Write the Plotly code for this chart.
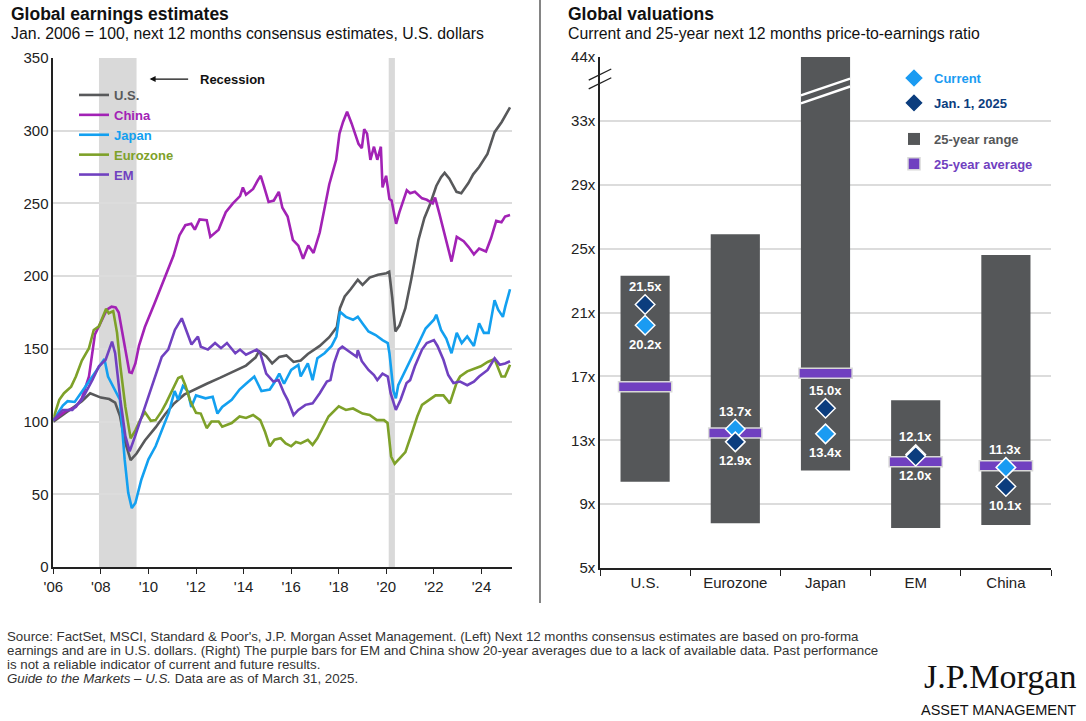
import plotly.graph_objects as go

W, H = 1086, 721
FONT = "Liberation Sans, Arial, sans-serif"

# ---------------- left panel: NTM consensus earnings, Jan. 2006 = 100 ----------------
us_t = [2006.0, 2006.6, 2007.2, 2007.55, 2007.8, 2008.0, 2008.35, 2008.6, 2008.8, 2009.0,
        2009.25, 2009.5, 2009.85, 2010.3, 2010.7, 2011.05, 2011.5, 2011.8, 2012.0, 2012.45,
        2013.0, 2013.5, 2014.1, 2014.5, 2014.65, 2014.95, 2015.2, 2015.5, 2015.8, 2016.1,
        2016.4, 2016.7, 2017.2, 2017.6, 2017.92, 2018.05, 2018.25, 2018.5, 2018.8, 2019.0,
        2019.3, 2019.65, 2020.0, 2020.12, 2020.25, 2020.38, 2020.55, 2020.8, 2021.05, 2021.35,
        2021.6, 2021.85, 2022.1, 2022.3, 2022.45, 2022.65, 2022.95, 2023.15, 2023.45, 2023.65,
        2023.9, 2024.25, 2024.55, 2024.85, 2025.05, 2025.2]
us_v = [100, 107, 114, 119.5, 118, 116.5, 115.5, 113, 104, 87,
        73.5, 78, 87, 96, 105, 112, 118.5, 121, 122.5, 126,
        130, 134, 138.5, 144, 148.5, 145, 140, 144.5, 145.5, 141,
        142, 146.5, 152, 158, 165, 178, 186, 191, 197.5, 194,
        199, 201, 202, 203, 185, 162, 166, 178, 198, 225,
        240, 250, 262, 268, 271, 267, 258, 257, 264, 270,
        275, 284, 299, 306, 312, 316]

china_t = [2006.0, 2006.5, 2006.95, 2007.2, 2007.5, 2007.75, 2008.05, 2008.25, 2008.45, 2008.62,
           2008.75, 2008.95, 2009.2, 2009.3, 2009.45, 2009.6, 2009.85, 2010.25, 2010.65, 2011.05,
           2011.3, 2011.55, 2011.8, 2011.95, 2012.15, 2012.45, 2012.6, 2012.95, 2013.25, 2013.55,
           2013.85, 2013.97, 2014.1, 2014.4, 2014.6, 2014.72, 2014.85, 2015.05, 2015.27, 2015.48,
           2015.63, 2015.85, 2016.07, 2016.3, 2016.5, 2016.72, 2016.94, 2017.2, 2017.43, 2017.6,
           2017.89, 2018.03, 2018.18, 2018.35, 2018.54, 2018.83, 2018.97, 2019.07, 2019.19, 2019.33,
           2019.48, 2019.62, 2019.77, 2019.84, 2019.99, 2020.13, 2020.22, 2020.41, 2020.55, 2020.86,
           2021.0, 2021.2, 2021.5, 2021.7, 2021.95, 2022.05, 2022.23, 2022.52, 2022.74, 2022.96,
           2023.25, 2023.46, 2023.68, 2023.9, 2024.19, 2024.4, 2024.62, 2024.84, 2024.99, 2025.2]
china_v = [101, 107, 110, 116, 131, 160, 170, 177, 179, 178.5,
           175, 157, 134, 133.5, 140, 152, 165, 181, 197, 214,
           228, 235, 236, 232, 239, 238.5, 227, 232, 244, 250,
           255, 261, 256, 260, 266, 269, 262, 251, 252, 258,
           247, 241, 225, 221, 212, 221, 216, 230, 249, 263,
           280, 298, 306, 313, 305, 291, 288, 301, 298, 280,
           289, 280, 289, 261, 269, 253, 252, 236, 244, 259,
           257, 258, 253.5, 252.5, 250, 254, 243, 225, 210, 227,
           224, 220, 215, 219, 217, 226, 238, 237, 241, 242]

japan_t = [2006.0, 2006.4, 2006.6, 2006.9, 2007.2, 2007.55, 2007.85, 2008.15, 2008.3, 2008.6,
           2008.8, 2009.0, 2009.15, 2009.3, 2009.45, 2009.7, 2010.0, 2010.3, 2010.55, 2010.85,
           2011.1, 2011.25, 2011.45, 2011.65, 2011.8, 2012.0, 2012.4, 2012.7, 2012.9, 2013.1,
           2013.5, 2013.83, 2014.1, 2014.45, 2014.75, 2015.1, 2015.3, 2015.5, 2015.7, 2016.0,
           2016.3, 2016.4, 2016.7, 2016.9, 2017.1, 2017.4, 2017.7, 2017.9, 2018.05, 2018.3,
           2018.6, 2018.8, 2019.0, 2019.25, 2019.55, 2019.84, 2020.06, 2020.13, 2020.3, 2020.4,
           2020.5, 2020.8, 2021.07, 2021.36, 2021.65, 2022.0, 2022.1, 2022.3, 2022.52, 2022.74,
           2022.96, 2023.17, 2023.4, 2023.68, 2023.9, 2024.1, 2024.3, 2024.55, 2024.7, 2024.9,
           2025.0, 2025.2]
japan_v = [101, 111, 114, 113.5, 120.5, 128.5, 135.5, 143, 131, 122,
           115, 74, 51, 40.5, 44, 60, 74, 83, 94, 106,
           121, 115, 124.5, 121, 110, 118, 116, 117, 105.5, 110,
           115, 122, 126, 131, 121, 122, 127, 133, 126, 135.5,
           139, 131, 140, 128.5, 143.5, 147, 152, 158.5, 175.5, 172,
           170, 172, 167.5, 162, 159.5, 156, 154, 147, 121, 116,
           125, 135.5, 144.5, 154, 164, 170, 173.5, 163, 157, 147,
           161, 154, 158.5, 152, 167.5, 161, 161, 183.5, 177, 172,
           179, 191]

euro_t = [2006.0, 2006.25, 2006.45, 2006.75, 2006.95, 2007.2, 2007.5, 2007.7, 2007.92, 2008.12,
          2008.22, 2008.33, 2008.52, 2008.68, 2008.82, 2009.03, 2009.25, 2009.45, 2009.65, 2009.85,
          2010.1, 2010.3, 2010.55, 2010.75, 2010.97, 2011.25, 2011.4, 2011.55, 2011.75, 2012.0,
          2012.2, 2012.45, 2012.65, 2012.95, 2013.1, 2013.5, 2013.83, 2014.1, 2014.4, 2014.7,
          2014.9, 2015.1, 2015.3, 2015.56, 2015.77, 2016.0, 2016.2, 2016.4, 2016.7, 2016.9,
          2017.1, 2017.35, 2017.57, 2018.0, 2018.3, 2018.6, 2019.0, 2019.3, 2019.6, 2019.9,
          2020.05, 2020.2, 2020.35, 2020.55, 2020.8, 2021.07, 2021.3, 2021.5, 2021.8, 2022.07,
          2022.4, 2022.67, 2022.96, 2023.1, 2023.4, 2023.68, 2023.97, 2024.26, 2024.55, 2024.84,
          2024.99, 2025.2]
euro_v = [102, 115, 119.5, 124, 131, 142, 150.5, 163, 165.5, 174.5,
          177.5, 174.5, 176, 161, 138, 110, 88.5, 94, 101, 106.5,
          100.5, 101, 107, 113, 120, 130, 131, 125, 114.5, 106,
          105.5, 95.5, 100, 100, 96.5, 99, 103.5, 102.5, 104.5, 101,
          93, 83, 87.5, 88.5, 85, 83, 86, 85, 87.5, 84,
          88.5, 96.5, 103.5, 110.5, 108, 109, 105.5, 104.5, 101, 101,
          99, 76, 71, 74.5, 79, 92, 103.5, 111.5, 115, 118,
          118, 112.5, 127, 131, 134.5, 136, 138, 141, 143, 131,
          131, 139]

em_t = [2006.0, 2006.4, 2006.8, 2007.2, 2007.64, 2007.92, 2008.2, 2008.47, 2008.6, 2008.82,
        2009.03, 2009.21, 2009.44, 2009.72, 2010.0, 2010.28, 2010.56, 2010.83, 2011.11, 2011.4,
        2011.53, 2011.67, 2011.81, 2012.08, 2012.2, 2012.5, 2012.8, 2013.05, 2013.3, 2013.65,
        2013.85, 2014.1, 2014.55, 2014.7, 2014.95, 2015.25, 2015.47, 2015.7, 2015.85, 2016.1,
        2016.3, 2016.6, 2016.9, 2017.2, 2017.5, 2017.65, 2017.8, 2018.0, 2018.15, 2018.45,
        2018.75, 2018.8, 2018.97, 2019.25, 2019.48, 2019.62, 2019.84, 2020.06, 2020.18, 2020.4,
        2020.6, 2020.85, 2021.0, 2021.2, 2021.5, 2021.7, 2022.0, 2022.15, 2022.4, 2022.6,
        2022.82, 2023.1, 2023.4, 2023.68, 2023.9, 2024.26, 2024.55, 2024.77, 2024.99, 2025.2]
em_v = [101, 108, 108, 115, 128.5, 138, 142.5, 155, 147, 115,
        90, 79.5, 90, 103.5, 117, 131, 144.5, 149.5, 163, 171,
        165, 158.5, 153, 158.5, 151.5, 149.5, 154, 150.5, 154, 147,
        149.5, 146, 149.5, 147, 133, 127.5, 128.5, 119.5, 115, 104.5,
        108, 111.5, 112.5, 119.5, 127.5, 128.5, 140, 149.5, 151.5, 148,
        144.5, 149, 141.5, 135.5, 132, 128.5, 133, 131, 119.5, 108,
        115, 126.5, 128.5, 138, 149.5, 154, 156, 152, 142.5, 132,
        126.5, 127.5, 125, 127.5, 131, 135.5, 143.5, 139, 140, 141.5]

recessions = [(2007.92, 2009.5), (2020.1, 2020.36)]
year_ticks = list(range(2006, 2025, 2))
year_labels = ["'" + str(y)[2:] for y in year_ticks]

# ---------------- right panel: NTM P/E ----------------
regions = ["U.S.", "Eurozone", "Japan", "EM", "China"]
range_low = [10.4, 7.8, 11.1, 7.5, 7.7]
range_high = [23.3, 25.9, 44.0, 15.5, 24.6]
avg_25y = [16.35, 13.45, 17.2, 11.65, 11.4]
pe_current = [20.2, 13.7, 13.4, 12.1, 11.3]
pe_jan_2025 = [21.5, 12.9, 15.0, 12.0, 10.1]
pe_ticks = [5, 9, 13, 17, 21, 25, 29, 33, 44]

C_CUR = "#1a9bf2"
C_JAN = "#0b3d7e"
C_RANGE = "#555759"
C_AVG = "#7040c0"


def pe_pos(v):
    # broken axis: 33x -> 44x squeezed into one 4-unit step
    return v if v <= 33 else 33 + (v - 33) * 4 / 11


fig = go.Figure()

left_series = [
    ("U.S.", us_t, us_v, "#58595b"),
    ("China", china_t, china_v, "#a222b5"),
    ("Japan", japan_t, japan_v, "#13a0f0"),
    ("Eurozone", euro_t, euro_v, "#7ea129"),
    ("EM", em_t, em_v, "#7041c0"),
]
for name, t, v, col in left_series:
    fig.add_trace(go.Scatter(
        x=t, y=v, mode="lines", line=dict(color=col, width=2.6),
        name="<b><span style='color:%s'>%s</span></b>" % (col, name),
        legend="legend", xaxis="x", yaxis="y",
    ))

# range bars
fig.add_trace(go.Bar(
    x=regions, y=[pe_pos(h) - pe_pos(l) for l, h in zip(range_low, range_high)],
    base=[pe_pos(l) for l in range_low], width=0.545,
    marker=dict(color=C_RANGE, line=dict(width=0)),
    name="<b><span style='color:%s'>25-year range</span></b>" % C_RANGE,
    legend="legend3", legendgroup="r", legendrank=3, xaxis="x2", yaxis="y2",
))
# average bars
fig.add_trace(go.Bar(
    x=regions, y=[0.62] * len(regions), base=[pe_pos(a) - 0.31 for a in avg_25y],
    width=0.59, marker=dict(color=C_AVG, line=dict(color="#d8d8d8", width=1.5)),
    name="<b><span style='color:%s'>25-year average</span></b>" % C_AVG,
    legend="legend3", legendgroup="a", legendrank=4, xaxis="x2", yaxis="y2",
))
fig.add_trace(go.Scatter(
    x=regions, y=pe_current, mode="markers",
    marker=dict(symbol="diamond", size=15, color=C_CUR, line=dict(color="white", width=1.5)),
    name="<b><span style='color:%s'>Current</span></b>" % C_CUR,
    legend="legend2", legendgroup="c", legendrank=1, xaxis="x2", yaxis="y2",
))
fig.add_trace(go.Scatter(
    x=regions, y=pe_jan_2025, mode="markers",
    marker=dict(symbol="diamond", size=15, color=C_JAN, line=dict(color="white", width=1.5)),
    name="<b><span style='color:%s'>Jan. 1, 2025</span></b>" % C_JAN,
    legend="legend2", legendgroup="j", legendrank=2, xaxis="x2", yaxis="y2",
))

shapes = []
for a, b in recessions:
    shapes.append(dict(type="rect", xref="x", yref="y domain", x0=a, x1=b, y0=0, y1=1,
                       fillcolor="#d9d9d9", line=dict(width=0), layer="below"))
# divider between panels
shapes.append(dict(type="line", xref="paper", yref="paper", x0=540 / W, x1=540 / W,
                   y0=1 - 603 / H, y1=1, line=dict(color="#333", width=1.2)))
# axis break marks on the P/E axis
for off in (0, 0.55):
    shapes.append(dict(type="line", xref="x2 domain", yref="y2", x0=-0.025, x1=0.025,
                       y0=35.0 + off, y1=35.7 + off, line=dict(color="#222", width=1.3)))
# break stripes across the Japan bar
for off in (0, 0.5):
    shapes.append(dict(type="line", xref="x2", yref="y2", x0=1.727, x1=2.273,
                       y0=34.1 + off, y1=35.15 + off, line=dict(color="white", width=2.5)))

ann = [
    dict(x=9 / W, y=1 - 14 / H, text="<b>Global earnings estimates</b>", font=dict(size=17.5)),
    dict(x=9 / W, y=1 - 34 / H, text="Jan. 2006 = 100, next 12 months consensus estimates, U.S. dollars",
         font=dict(size=15.8)),
    dict(x=566 / W, y=1 - 14 / H, text="<b>Global valuations</b>", font=dict(size=17.5)),
    dict(x=566 / W, y=1 - 34 / H, text="Current and 25-year next 12 months price-to-earnings ratio",
         font=dict(size=15.8)),
]
footer = [
    "Source: FactSet, MSCI, Standard &amp; Poor's, J.P. Morgan Asset Management. (Left) Next 12 months consensus estimates are based on pro-forma",
    "earnings and are in U.S. dollars. (Right) The purple bars for EM and China show 20-year averages due to a lack of available data. Past performance",
    "is not a reliable indicator of current and future results.",
    "<i>Guide to the Markets – U.S.</i> Data are as of March 31, 2025.",
]
for i, line in enumerate(footer):
    ann.append(dict(x=5 / W, y=1 - (636 + 14.3 * i) / H, text=line, font=dict(size=13.3, color="#333")))
for a in ann:
    a.update(xref="paper", yref="paper", xanchor="left", yanchor="middle", showarrow=False)
    a["font"].setdefault("color", "#111")

# value labels on the diamonds: the higher value sits above, the lower one below
for vals, other in [(pe_current, pe_jan_2025), (pe_jan_2025, pe_current)]:
    for r, v, o in zip(regions, vals, other):
        ann.append(dict(xref="x2", yref="y2", x=r, y=pe_pos(v), text="<b>%.1fx</b>" % v,
                        showarrow=False, yshift=18 if v >= o else -19,
                        font=dict(size=13, color="white")))

ann += [
    dict(xref="paper", yref="paper", x=1078 / W, y=1 - 676 / H, xanchor="right", yanchor="middle",
         text="J.P.Morgan", showarrow=False,
         font=dict(family="Liberation Serif, serif", size=34, color="#111")),
    dict(xref="paper", yref="paper", x=1078 / W, y=1 - 710 / H, xanchor="right", yanchor="middle",
         text="ASSET MANAGEMENT", showarrow=False, font=dict(size=14.5, color="#111")),
    dict(xref="x", yref="y", x=2010.05, y=335.5, ax=40, ay=0, text="", showarrow=True,
         arrowhead=2, arrowsize=1, arrowwidth=1.2, arrowcolor="#111"),
    dict(xref="x", yref="y", x=2012.1, y=335.5, xanchor="left", yanchor="middle", showarrow=False,
         text="<b>Recession</b>", font=dict(size=13, color="#111")),
]

fig.update_layout(
    width=W, height=H, margin=dict(l=0, r=0, t=0, b=0, pad=0, autoexpand=False),
    paper_bgcolor="white", plot_bgcolor="white",
    font=dict(family=FONT, size=15, color="#222"),
    barmode="overlay", showlegend=True,
    xaxis=dict(domain=[53.3 / W, 511.7 / W], range=[2006, 2025.27], tickvals=year_ticks,
               ticktext=year_labels, ticks="outside", ticklen=5, tickcolor="#222",
               showline=True, linecolor="#222", linewidth=1.5, showgrid=False, zeroline=False,
               anchor="y", automargin=False),
    yaxis=dict(domain=[1 - 567 / H, 1 - 58 / H], range=[0, 350], dtick=50,
               showline=True, linecolor="#222", linewidth=1.5, gridcolor="#dcdcdc", gridwidth=1.5,
               zeroline=False, ticks="", anchor="x", automargin=False),
    xaxis2=dict(domain=[600 / W, 1051 / W], type="category", categoryorder="array",
                categoryarray=regions, range=[-0.5, 4.5], tickson="boundaries", ticks="outside",
                ticklen=6, tickcolor="#222", showline=True, linecolor="#222", linewidth=1.5,
                showgrid=False, anchor="y2", automargin=False),
    yaxis2=dict(domain=[1 - 568 / H, 1 - 57 / H], range=[5, pe_pos(44)],
                tickvals=[pe_pos(v) for v in pe_ticks], ticktext=["%dx" % v for v in pe_ticks],
                showline=True, linecolor="#222", linewidth=1.5, gridcolor="#dcdcdc", gridwidth=1.5,
                zeroline=False, ticks="", anchor="x2", automargin=False),
    legend=dict(x=74 / W, y=1 - 80 / H, xanchor="left", yanchor="top", bgcolor="rgba(0,0,0,0)",
                font=dict(size=13), tracegroupgap=0),
    legend2=dict(x=894 / W, y=1 - 63 / H, xanchor="left", yanchor="top", bgcolor="rgba(0,0,0,0)",
                 font=dict(size=13), tracegroupgap=5, traceorder="grouped"),
    legend3=dict(x=894 / W, y=1 - 124 / H, xanchor="left", yanchor="top", bgcolor="rgba(0,0,0,0)",
                 font=dict(size=13), tracegroupgap=5, traceorder="grouped"),
    shapes=shapes, annotations=ann,
)

fig.write_html("out.html", config={"displayModeBar": False},
               post_script="document.body.style.margin='0';")
